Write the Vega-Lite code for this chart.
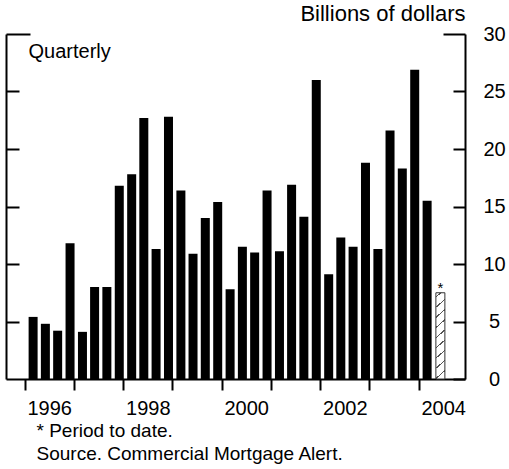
{
  "$schema": "https://vega.github.io/schema/vega-lite/v6.json",
  "width": 459,
  "height": 345,
  "autosize": "none",
  "padding": {"left": 6, "top": 34, "right": 44, "bottom": 90},
  "background": "white",
  "config": {
    "font": "Liberation Sans",
    "view": {"stroke": null},
    "axis": {"domainColor": "black", "tickColor": "black", "labelColor": "black", "titleColor": "black", "grid": false, "titleFontWeight": "normal"}
  },
  "data": {
    "values": [
      {"quarter": "1996-01-01", "value": 5.4, "status": "Actual"},
      {"quarter": "1996-04-01", "value": 4.8, "status": "Actual"},
      {"quarter": "1996-07-01", "value": 4.2, "status": "Actual"},
      {"quarter": "1996-10-01", "value": 11.8, "status": "Actual"},
      {"quarter": "1997-01-01", "value": 4.1, "status": "Actual"},
      {"quarter": "1997-04-01", "value": 8.0, "status": "Actual"},
      {"quarter": "1997-07-01", "value": 8.0, "status": "Actual"},
      {"quarter": "1997-10-01", "value": 16.8, "status": "Actual"},
      {"quarter": "1998-01-01", "value": 17.8, "status": "Actual"},
      {"quarter": "1998-04-01", "value": 22.7, "status": "Actual"},
      {"quarter": "1998-07-01", "value": 11.3, "status": "Actual"},
      {"quarter": "1998-10-01", "value": 22.8, "status": "Actual"},
      {"quarter": "1999-01-01", "value": 16.4, "status": "Actual"},
      {"quarter": "1999-04-01", "value": 10.9, "status": "Actual"},
      {"quarter": "1999-07-01", "value": 14.0, "status": "Actual"},
      {"quarter": "1999-10-01", "value": 15.4, "status": "Actual"},
      {"quarter": "2000-01-01", "value": 7.8, "status": "Actual"},
      {"quarter": "2000-04-01", "value": 11.5, "status": "Actual"},
      {"quarter": "2000-07-01", "value": 11.0, "status": "Actual"},
      {"quarter": "2000-10-01", "value": 16.4, "status": "Actual"},
      {"quarter": "2001-01-01", "value": 11.1, "status": "Actual"},
      {"quarter": "2001-04-01", "value": 16.9, "status": "Actual"},
      {"quarter": "2001-07-01", "value": 14.1, "status": "Actual"},
      {"quarter": "2001-10-01", "value": 26.0, "status": "Actual"},
      {"quarter": "2002-01-01", "value": 9.1, "status": "Actual"},
      {"quarter": "2002-04-01", "value": 12.3, "status": "Actual"},
      {"quarter": "2002-07-01", "value": 11.5, "status": "Actual"},
      {"quarter": "2002-10-01", "value": 18.8, "status": "Actual"},
      {"quarter": "2003-01-01", "value": 11.3, "status": "Actual"},
      {"quarter": "2003-04-01", "value": 21.6, "status": "Actual"},
      {"quarter": "2003-07-01", "value": 18.3, "status": "Actual"},
      {"quarter": "2003-10-01", "value": 26.9, "status": "Actual"},
      {"quarter": "2004-01-01", "value": 15.5, "status": "Actual"},
      {"quarter": "2004-04-01", "value": 7.5, "status": "Period to date"}
    ]
  },
  "encoding": {
    "x": {
      "field": "quarter", "type": "temporal",
      "scale": {"type": "utc", "padding": 0, "domain": [{"year": 1995, "month": 8, "date": 16, "utc": true}, {"year": 2004, "month": 12, "date": 10, "utc": true}]},
      "axis": {
        "values": [
          {"year": 1996, "month": 1, "date": 1, "utc": true},
          {"year": 1997, "month": 1, "date": 1, "utc": true},
          {"year": 1998, "month": 1, "date": 1, "utc": true},
          {"year": 1999, "month": 1, "date": 1, "utc": true},
          {"year": 2000, "month": 1, "date": 1, "utc": true},
          {"year": 2001, "month": 1, "date": 1, "utc": true},
          {"year": 2002, "month": 1, "date": 1, "utc": true},
          {"year": 2003, "month": 1, "date": 1, "utc": true},
          {"year": 2004, "month": 1, "date": 1, "utc": true}
        ],
        "labelExpr": "utcyear(datum.value) % 2 == 0 ? utcFormat(datum.value, '%Y') : ''",
        "labelOffset": 24.6,
        "labelAlign": "center",
        "labelFontSize": 20,
        "labelPadding": 8,
        "labelFlush": false,
        "labelOverlap": false,
        "tickSize": 11,
        "tickWidth": 2,
        "domainWidth": 2,
        "title": ["* Period to date.", "Source. Commercial Mortgage Alert."],
        "titleFontSize": 19,
        "titleAlign": "left",
        "titleAnchor": "start",
        "titleBaseline": "alphabetic",
        "titleLineHeight": 23,
        "titleX": 30,
        "titleY": 57.5
      }
    }
  },
  "layer": [
    {
      "transform": [{"filter": "datum.status == 'Actual'"}],
      "mark": {"type": "bar", "width": 9, "xOffset": 8.5, "color": "black"},
      "encoding": {
        "y": {
          "field": "value", "type": "quantitative",
          "scale": {"domain": [0, 30], "nice": false},
          "axis": {
            "orient": "left",
            "values": [5, 10, 15, 20, 25, 30],
            "labels": false,
            "tickSize": {"condition": {"test": "datum.value == 30", "value": -24}, "value": -13},
            "tickWidth": 2,
            "domainWidth": 2,
            "title": "Quarterly",
            "titleAngle": 0,
            "titleFontSize": 20,
            "titleAlign": "left",
            "titleBaseline": "alphabetic",
            "titleX": 22,
            "titleY": 23
          }
        }
      }
    },
    {
      "transform": [{"filter": "datum.status == 'Period to date'"}],
      "mark": {
        "type": "bar", "width": 9, "xOffset": 9.5, "stroke": "#333", "strokeWidth": 1,
        "fill": {
          "gradient": "linear", "x1": 0, "y1": 0, "x2": 0.092, "y2": 1,
          "stops": [
            {"offset": 0, "color": "white"},
            {"offset": 0.042, "color": "white"}, {"offset": 0.042, "color": "#555"}, {"offset": 0.058, "color": "#555"}, {"offset": 0.058, "color": "white"},
            {"offset": 0.159, "color": "white"}, {"offset": 0.159, "color": "#555"}, {"offset": 0.175, "color": "#555"}, {"offset": 0.175, "color": "white"},
            {"offset": 0.276, "color": "white"}, {"offset": 0.276, "color": "#555"}, {"offset": 0.292, "color": "#555"}, {"offset": 0.292, "color": "white"},
            {"offset": 0.393, "color": "white"}, {"offset": 0.393, "color": "#555"}, {"offset": 0.409, "color": "#555"}, {"offset": 0.409, "color": "white"},
            {"offset": 0.51, "color": "white"}, {"offset": 0.51, "color": "#555"}, {"offset": 0.526, "color": "#555"}, {"offset": 0.526, "color": "white"},
            {"offset": 0.627, "color": "white"}, {"offset": 0.627, "color": "#555"}, {"offset": 0.643, "color": "#555"}, {"offset": 0.643, "color": "white"},
            {"offset": 0.744, "color": "white"}, {"offset": 0.744, "color": "#555"}, {"offset": 0.76, "color": "#555"}, {"offset": 0.76, "color": "white"},
            {"offset": 0.861, "color": "white"}, {"offset": 0.861, "color": "#555"}, {"offset": 0.877, "color": "#555"}, {"offset": 0.877, "color": "white"},
            {"offset": 0.978, "color": "white"}, {"offset": 0.978, "color": "#555"}, {"offset": 0.994, "color": "#555"}, {"offset": 0.994, "color": "white"},
            {"offset": 1, "color": "white"}
          ]
        }
      },
      "encoding": {
        "y": {
          "field": "value", "type": "quantitative",
          "axis": {
            "orient": "right",
            "values": [0, 5, 10, 15, 20, 25, 30],
            "tickSize": {"condition": {"test": "datum.value == 30", "value": -22}, "value": -12},
            "tickWidth": 2,
            "domainWidth": 2,
            "labelFontSize": 20,
            "labelAlign": "center",
            "labelBaseline": "middle",
            "labelPadding": {"condition": {"test": "datum.value == 30", "value": 51}, "value": 41},
            "labelFlush": false,
            "title": "Billions of dollars",
            "titleAngle": 0,
            "titleFontSize": 22,
            "titleAlign": "right",
            "titleBaseline": "alphabetic",
            "titleX": 0,
            "titleY": -14
          }
        }
      }
    },
    {
      "transform": [{"filter": "datum.status == 'Period to date'"}],
      "mark": {"type": "text", "text": "*", "xOffset": 9.5, "align": "center", "baseline": "alphabetic", "fontSize": 15, "fill": "black", "color": "black"},
      "encoding": {
        "y": {"field": "value", "type": "quantitative", "axis": null}
      }
    }
  ],
  "resolve": {"axis": {"y": "independent"}}
}
